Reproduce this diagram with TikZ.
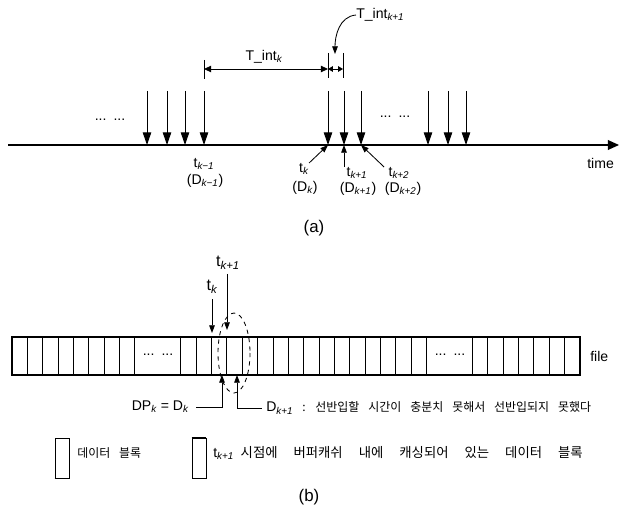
\documentclass[tikz,border=0pt]{standalone}
\usepackage{fontspec}
\setmainfont{Liberation Sans}
\newfontfamily\krfont{Noto Sans CJK KR}
\usepackage{tikz}
\usetikzlibrary{positioning, arrows.meta, calc}
\newcommand{\idx}[1]{\textsubscript{\itshape #1}}
\newcommand{\kornarrow}{\spaceskip=0.75em\relax}
\newcommand{\korwide}{\spaceskip=1.2em\relax}
\newcommand{\latn}{\normalfont\fontsize{10}{12}\selectfont}

\begin{document}
\begin{tikzpicture}[
  x=0.025cm, y=-0.025cm,
  lbl/.style={font=\fontsize{10}{12}\selectfont, inner sep=0pt},
  big/.style={font=\fontsize{11.5}{13}\selectfont, inner sep=0pt},
  sublab/.style={font=\fontsize{12}{14}\selectfont, inner sep=0pt},
  kor/.style={font=\fontsize{8.5}{10}\selectfont\krfont,
              execute at begin node=\kornarrow,
              inner sep=0pt, anchor=west},
  korkey/.style={font=\fontsize{9.5}{11}\selectfont\krfont,
              execute at begin node=\korwide,
              inner sep=0pt, anchor=west},
  axis/.style={-{Triangle[length=8pt,width=7pt]}, line width=1pt},
  drop/.style={-{Triangle[length=9pt,width=6pt]}, line width=0.7pt},
  poke/.style={-{Triangle[length=5.5pt,width=4pt]}, line width=0.6pt},
  dim/.style={{Triangle[length=5pt,width=4.5pt]}-{Triangle[length=5pt,width=4.5pt]},
              line width=0.6pt},
  dimshort/.style={{Triangle[length=3.5pt,width=4pt]}-{Triangle[length=3.5pt,width=4pt]},
              line width=0.6pt},
  cellline/.style={line width=0.6pt},
  legbox/.style={draw, line width=0.6pt, minimum width=0.35cm,
                 minimum height=1cm, inner sep=0pt},
]
\useasboundingbox (0,0) rectangle (624,512);

% =========================================================================
% (a) arrival times on the time axis
% =========================================================================
\coordinate (t0) at (8,145);
\coordinate (t1) at (619,145);
\draw[axis] (t0) -- (t1);
\node[lbl, anchor=west] (timelab) at (587,163) {time};

\foreach \x [count=\i] in {147,167,185,204,328,344,361,428,448,466}{
  \coordinate (d\i) at (\x,91);
  \coordinate (e\i) at (\x,145);
  \draw[drop] (d\i) -- (e\i);
}
\node[lbl] (gapA) at (110,120) {...\hspace{5pt}...};
\node[lbl] (gapB) at (395,117) {...\hspace{5pt}...};

% ---- interval marks ------------------------------------------------------
\coordinate (ik0) at (204,69);
\coordinate (ik1) at (328,69);
\coordinate (ik2) at (343,69);
\draw[line width=0.5pt] ($(ik0)+(0,-9)$) -- ($(ik0)+(0,10)$);
\draw[line width=0.5pt] ($(ik1)+(0,-16)$) -- ($(ik1)+(0,9)$);
\draw[line width=0.5pt] ($(ik2)+(0,-16)$) -- ($(ik2)+(0,9)$);
\draw[dim] (ik0) -- (ik1);
\draw[dimshort] (ik1) -- (ik2);
\node[lbl] (intk) at (264,57) {T\_int\idx{k}};
\node[lbl, anchor=west] (intk1) at (356,15) {T\_int\idx{k+1}};
\coordinate (intk1tip) at (335,54);
\draw[poke] (intk1.west) to[out=185,in=90] (intk1tip);

% ---- labels under the axis -----------------------------------------------
\node[lbl] (tkm) at (204,164) {t\idx{k−1}};
\node[lbl] (dkm) at (205,181) {(D\idx{k−1})};
\node[lbl] (tk) at (304,169) {t\idx{k}};
\node[lbl] (dk) at (305,188) {(D\idx{k})};
\node[lbl] (tk1) at (357,173) {t\idx{k+1}};
\node[lbl] (dk1) at (358,189) {(D\idx{k+1})};
\node[lbl] (tk2) at (399,173) {t\idx{k+2}};
\node[lbl] (dk2) at (403,189) {(D\idx{k+2})};
\draw[poke] (tk.north east) -- (e5);
\draw[poke] (tk1.north -| e6) -- (e6);
\draw[poke] ([xshift=-3pt]tk2.north west) -- (e7);

\node[sublab] (capa) at (314,228) {(a)};

% =========================================================================
% (b) the file as a row of data blocks
% =========================================================================
\def\cw{15.35}
\coordinate (fs) at (12,337);
\coordinate (fe) at (580,375);
\draw[line width=0.8pt] (fs) rectangle (fe);
\foreach \j in {1,...,36}{
  \ifnum\j=9 \else\ifnum\j=10 \else\ifnum\j=28 \else\ifnum\j=29 \else
    \draw[cellline] (12+\j*\cw,337) -- (12+\j*\cw,375);
  \fi\fi\fi\fi
}
\node[lbl] (gapC) at (158,355) {...\hspace{5pt}...};
\node[lbl] (gapD) at (450,355) {...\hspace{5pt}...};
\node[lbl, anchor=west] (filelab) at (590,356) {file};

% ---- t_k and t_k+1 -------------------------------------------------------
\node[big] (btk) at (212,287) {t\idx{k}};
\node[big] (btk1) at (228,263) {t\idx{k+1}};
\coordinate (btkend) at (212,333);
\coordinate (btk1end) at (227,330);
\draw[poke] ([yshift=-4pt]btk.south -| btkend) -- (btkend);
\draw[poke] ([yshift=-3pt]btk1.south -| btk1end) -- (btk1end);
\draw[dashed, line width=0.6pt] (234,353) ellipse [x radius=16, y radius=40];

% ---- callouts below the row ----------------------------------------------
\coordinate (upA) at (222,375);
\coordinate (upB) at (237,375);
\node[lbl, anchor=east] (dpk) at (189,407) {DP\idx{k} = D\idx{k}};
\node[kor] (dk1note) at (266,408)
  {{\latn D\idx{k+1}}~: 선반입할 시간이 충분치 못해서 선반입되지 못했다};
\draw[poke] ([xshift=5pt]dpk.east) -| (upA);
\draw[poke] ([xshift=-3pt]dk1note.west) -| (upB);

% ---- legend ----------------------------------------------------------------
\node[legbox] (keyA) at (62,458) {};
\draw[line width=1.3pt] (keyA.south west) -- (keyA.south east);
\node[kor] (keyAtxt) at (77,453) {데이터 블록};
\node[legbox] (keyB) at (199,458) {};
\draw[line width=1.3pt] (keyB.north west) -- (keyB.north east);
\node[korkey] (keyBtxt) at (213,453)
  {{\latn t\idx{k+1}}\hspace{0.5em}시점에 버퍼캐쉬 내에 캐싱되어 있는 데이터 블록};

\node[sublab] (capb) at (309,497) {(b)};

\end{tikzpicture}
\end{document}
